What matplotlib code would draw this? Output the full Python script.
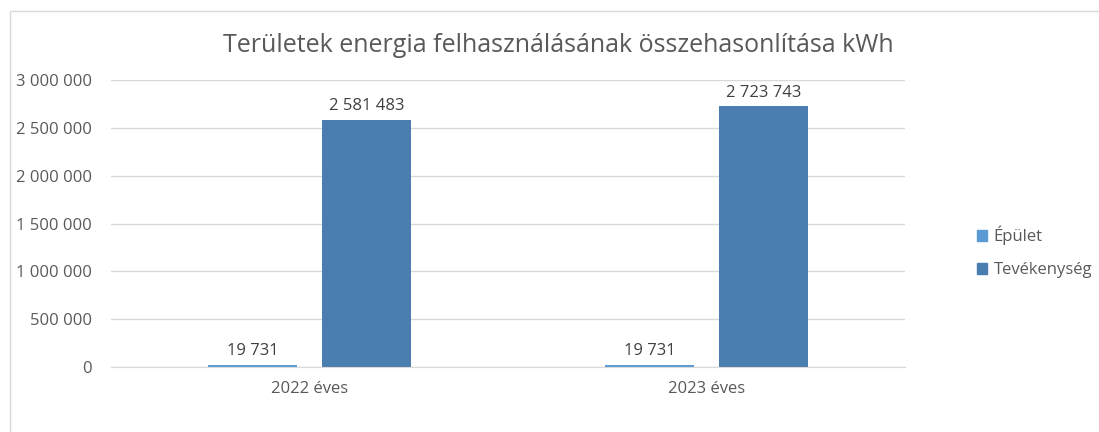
import numpy as np
import matplotlib.pyplot as plt
from matplotlib.patches import Rectangle, Patch

categories = ['2022 éves', '2023 éves']
series_names = ['Épület', 'Tevékenység']
epulet = [19731, 19731]
tevekenyseg = [2581483, 2723743]
yticks = [0, 500000, 1000000, 1500000, 2000000, 2500000, 3000000]

colors = ['#5b9bd5', '#4a7eb0']
txt = '#595959'
plt.rcParams['font.family'] = ['Open Sans', 'DejaVu Sans']


def fmt(v):
    return f'{v:,.0f}'.replace(',', ' ')


fig = plt.figure(figsize=(10.99, 4.32), dpi=100)
fig.patches.append(Rectangle((10 / 1099, -0.01), 1.02, 1 - 11 / 432 + 0.01,
                             transform=fig.transFigure, fill=False,
                             edgecolor='#d9d9d9', linewidth=1))
ax = fig.add_axes([111 / 1099, 1 - 367 / 432, 794 / 1099, 287 / 432])

x = np.arange(len(categories))
w = 0.224
off = 0.143
b1 = ax.bar(x - off, epulet, w, color=colors[0], label=series_names[0])
b2 = ax.bar(x + off, tevekenyseg, w, color=colors[1], label=series_names[1])

for bars, vals in [(b1, epulet), (b2, tevekenyseg)]:
    for r, v in zip(bars, vals):
        ax.text(r.get_x() + r.get_width() / 2, v + 60000, fmt(v),
                ha='center', va='bottom', fontsize=12, color='#404040')

ax.set_xlim(-0.5, 1.5)
ax.set_ylim(0, 3000000)
ax.set_yticks(yticks)
ax.set_yticklabels([fmt(v) for v in yticks], fontsize=12, color=txt)
ax.set_xticks(x)
ax.set_xticklabels(categories, fontsize=12, color=txt)
ax.tick_params(length=0)
ax.tick_params(axis='x', pad=10)
ax.tick_params(axis='y', pad=14)
ax.yaxis.grid(True, color='#d9d9d9', linewidth=1)
ax.set_axisbelow(True)
for s in ['top', 'right', 'left']:
    ax.spines[s].set_visible(False)
ax.spines['bottom'].set_color('#d9d9d9')

fig.text(558 / 1099, 1 - 46 / 432, 'Területek energia felhasználásának összehasonlítása kWh',
         ha='center', va='center', fontsize=18, color=txt)

handles = [Patch(color=c) for c in colors]
fig.legend(handles, series_names, loc='center left',
           bbox_to_anchor=(962 / 1099, 1 - 252 / 432), frameon=False,
           fontsize=12, labelcolor=txt, handlelength=0.6, handleheight=0.6,
           labelspacing=1.0, handletextpad=0.4)

fig.savefig('out.png', dpi=100)
